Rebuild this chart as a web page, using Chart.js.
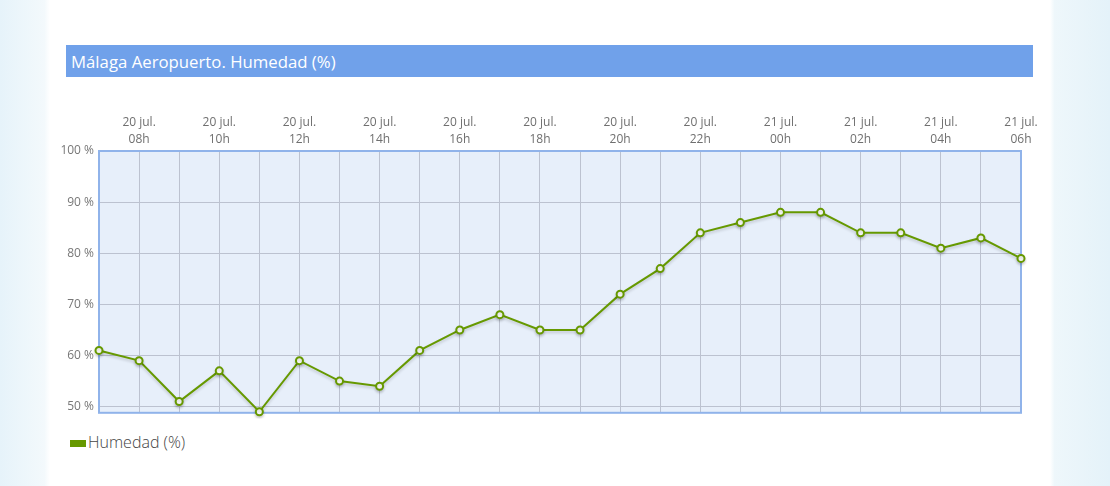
<!DOCTYPE html>
<html>
<head>
<meta charset="utf-8">
<script src="https://cdn.jsdelivr.net/npm/chart.js@4/dist/chart.umd.min.js"></script>
<style>
  html, body { margin: 0; padding: 0; }
  body {
    width: 1110px; height: 486px; overflow: hidden;
    background: linear-gradient(90deg, #e6f3fa 0%, #f3f9fc 4%, #ffffff 4.5%, #ffffff 94.6%, #eef7fb 95%, #e4f2f9 100%);
    font-family: "Open Sans", sans-serif;
    position: relative;
  }
  #panel { position: absolute; left: 50px; top: 0; width: 1000px; height: 486px; background: #fff; }
  #title {
    position: absolute; left: 66px; top: 45px; width: 967px; height: 32px;
    background: #70a1ea; color: #fff; font-size: 16.75px; line-height: 33px;
    padding-left: 5px; box-sizing: border-box;
  }
  #wrap { position: absolute; left: 50px; top: 100px; width: 1000px; height: 325px; }
  #legend {
    position: absolute; left: 70px; top: 432px; font-size: 16px; color: #444;
    font-weight: 300; line-height: 20px; white-space: nowrap;
  }
  #legend span.box {
    display: inline-block; width: 16px; height: 7px; background: #669900;
    margin-right: 2px; vertical-align: 1px;
  }
</style>
</head>
<body>
<div id="panel"></div>
<div id="title">Málaga Aeropuerto. Humedad (%)</div>
<div id="wrap"><canvas id="myChart"></canvas></div>
<div id="legend"><span class="box"></span>Humedad (%)</div>
<script>
'use strict';
const days = ['20 jul.', '20 jul.', '20 jul.', '20 jul.', '20 jul.', '20 jul.', '20 jul.', '20 jul.',
  '20 jul.', '20 jul.', '20 jul.', '20 jul.', '20 jul.', '20 jul.', '20 jul.', '20 jul.', '20 jul.',
  '21 jul.', '21 jul.', '21 jul.', '21 jul.', '21 jul.', '21 jul.', '21 jul.'];
const hours = ['07h', '08h', '09h', '10h', '11h', '12h', '13h', '14h', '15h', '16h', '17h', '18h',
  '19h', '20h', '21h', '22h', '23h', '00h', '01h', '02h', '03h', '04h', '05h', '06h'];
const humedad = [61, 59, 51, 57, 49, 59, 55, 54, 61, 65, 68, 65, 65, 72, 77, 84, 86, 88, 88, 84, 84, 81, 83, 79];
const yTicks = [50, 60, 70, 80, 90, 100];

const plotBg = {
  id: 'plotBg',
  beforeDraw(chart) {
    const a = chart.chartArea, ctx = chart.ctx;
    ctx.save();
    ctx.fillStyle = '#e7effa';
    ctx.fillRect(a.left, a.top, a.right - a.left, a.bottom - a.top);
    ctx.restore();
  },
  beforeDatasetsDraw(chart) {
    const a = chart.chartArea, ctx = chart.ctx;
    ctx.save();
    ctx.strokeStyle = '#90b3ea';
    ctx.lineWidth = 2;
    ctx.strokeRect(a.left, a.top, a.right - a.left, a.bottom - a.top);
    ctx.restore();
  },
  beforeDatasetDraw(chart) {
    const ctx = chart.ctx;
    ctx.save();
    ctx.shadowColor = 'rgba(0,0,0,0.18)';
    ctx.shadowBlur = 3;
    ctx.shadowOffsetY = 2;
  },
  afterDatasetDraw(chart) {
    chart.ctx.restore();
  }
};

const ctx = document.getElementById('myChart').getContext('2d');
const myChart = new Chart(ctx, {
  type: 'line',
  data: {
    labels: hours.map((h, i) => [days[i], h]),
    datasets: [{
      label: 'Humedad (%)',
      data: humedad,
      borderColor: '#669900',
      backgroundColor: '#669900',
      borderWidth: 2,
      pointRadius: 3.5,
      pointBorderWidth: 2,
      pointBackgroundColor: '#ffffff',
      pointBorderColor: '#669900',
      tension: 0,
      fill: false,
      clip: 6,
    }],
  },
  options: {
    responsive: true,
    maintainAspectRatio: false,
    animation: false,
    layout: { padding: { left: 0, right: 29, top: 0, bottom: 0 } },
    plugins: {
      tooltip: { enabled: false },
      legend: { display: false },
    },
    scales: {
      x: {
        position: 'top',
        grid: { color: '#bcc2d0', lineWidth: 1, drawTicks: false },
        border: { display: false },
        afterFit(scale) { scale.height = 51; },
        ticks: {
          autoSkip: false,
          maxRotation: 0,
          padding: 3,
          color: '#6f6f6f',
          font: { family: 'Open Sans', size: 12, lineHeight: 1.4 },
          callback(v, i) { return i % 2 === 1 ? [days[i], hours[i]] : ''; },
        },
      },
      y: {
        min: 48.8,
        max: 100,
        afterFit(scale) { scale.width = 49; },
        afterBuildTicks(scale) { scale.ticks = yTicks.map(v => ({ value: v })); },
        grid: { color: '#bcc2d0', lineWidth: 1, drawTicks: false },
        border: { display: false },
        ticks: {
          padding: 5,
          color: '#777',
          font: { family: 'Open Sans', size: 12 },
          callback(v) { return v + ' %'; },
        },
      },
    },
  },
  plugins: [plotBg],
});
</script>
</body>
</html>
